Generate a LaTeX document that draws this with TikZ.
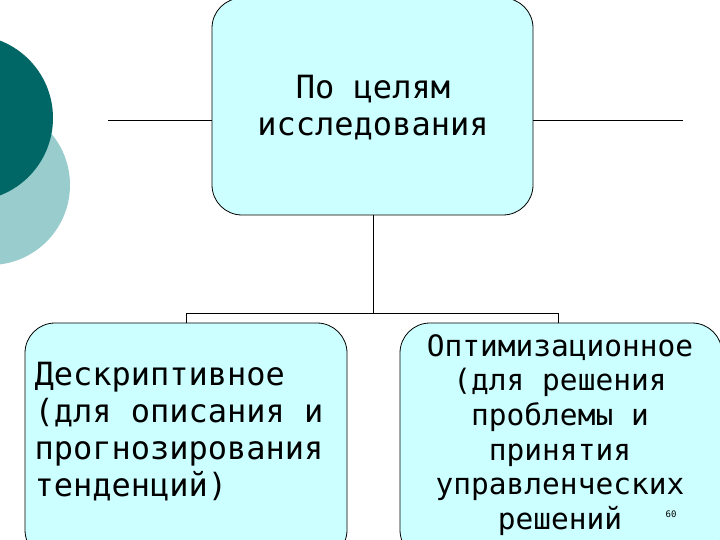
\documentclass[tikz,border=0pt]{standalone}
\usepackage{fontspec}
\setmainfont{DejaVu Sans Mono}
\definecolor{boxc}{RGB}{204,255,255}
\definecolor{dteal}{RGB}{0,102,102}
\definecolor{lteal}{RGB}{153,204,204}
\begin{document}
\begin{tikzpicture}[x=1pt,y=-1pt,
  box/.style={draw=black,line width=0.8pt,fill=boxc,rounded corners=30pt},
  txt/.style={font=\fontsize{32}{37}\selectfont,align=center},
  ln/.style={draw=black,line width=1pt}]
\useasboundingbox (0,0) rectangle (720,540);
\clip (0,0) rectangle (720,540);
\fill[lteal] (-10,185) circle (80);
\fill[dteal] (-30,118) circle (83);
\draw[box] (212,-2) rectangle (533,215);
\coordinate (hl1) at (108,121); \coordinate (hl2) at (212,121);
\coordinate (hr1) at (533,121); \coordinate (hr2) at (683,121);
\draw[ln] (hl1)--(hl2); \draw[ln] (hr1)--(hr2);
\node[txt] (top) at (373,108) {По целям\\исследования};
\coordinate (v1) at (373,215); \coordinate (v2) at (373,313);
\coordinate (bl) at (186,313); \coordinate (br) at (558,313);
\coordinate (bl2) at (186,323); \coordinate (br2) at (558,323);
\draw[ln] (v1)--(v2); \draw[ln] (bl)--(br); \draw[ln] (bl)--(bl2); \draw[ln] (br)--(br2);
\draw[box] (25,323) rectangle (347,560);
\draw[box] (400,323) rectangle (722,560);
\node[txt,align=left,anchor=west] (l) at (31,432) {Дескриптивное\\(для описания и\\прогнозирования\\тенденций)};
\node[txt,font=\fontsize{29.5}{34.6}\selectfont] (r) at (560,435) {Оптимизационное\\(для решения\\проблемы и\\принятия\\управленческих\\решений};
\node[font=\fontsize{9}{10}\selectfont] (n) at (671,514) {60};
\end{tikzpicture}
\end{document}
